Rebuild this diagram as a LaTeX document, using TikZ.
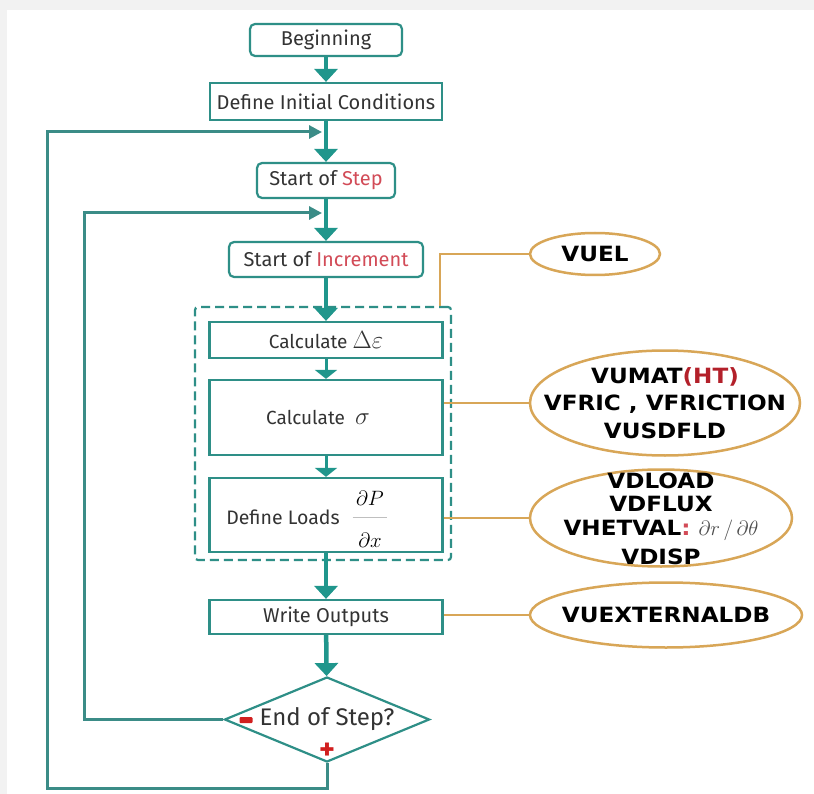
\documentclass[tikz,border=0pt]{standalone}
\usepackage{fontspec}
\setmainfont{Fira Sans}
\newfontfamily\subfont[FakeStretch=1.1]{DejaVu Sans Bold}
\usetikzlibrary{arrows.meta,shapes.geometric}
\definecolor{flowteal}{RGB}{32,150,140}
\definecolor{boxline}{RGB}{46,143,135}
\definecolor{loopline}{RGB}{59,140,135}
\definecolor{tan}{RGB}{216,166,87}
\definecolor{stepred}{RGB}{210,75,87}
\definecolor{htred}{RGB}{179,32,42}
\definecolor{signred}{RGB}{209,31,31}
\definecolor{txt}{RGB}{51,51,51}
\begin{document}
\begin{tikzpicture}[x=1pt,y=-1pt,
  >={Triangle[width=23pt,length=13pt]},
  box/.style={draw=boxline,line width=2.2pt,fill=white,minimum width=233pt,
    text=txt,font=\fontsize{20}{22}\selectfont,inner sep=0pt},
  rbox/.style={box,rounded corners=5pt},
  flow/.style={->,draw=flowteal,line width=4.5pt},
  thinflow/.style={->,draw=flowteal,line width=3pt,>={Triangle[width=22pt,length=9pt]}},
  loopback/.style={->,draw=loopline,line width=3pt,shorten >=4pt,
    >={Triangle[width=13pt,length=13pt]}},
  link/.style={draw=tan,line width=2.2pt},
  sub/.style={ellipse,draw=tan,line width=2.5pt,fill=white,inner sep=0pt},
  subtxt/.style={font=\subfont\fontsize{21}{23.5}\selectfont,align=center,inner sep=0pt}]
\path[use as bounding box] (0,0) rectangle (814,794);
\fill[black!5] (0,0) rectangle (814,794);
\fill[white] (7,10) rectangle (814,794);

% main column
\node[rbox,minimum width=152pt,minimum height=32pt] (begin) at (326,40) {Beginning};
\node[box,minimum width=232pt,minimum height=37pt] (init) at (326,101.5) {Define Initial Conditions};
\node[rbox,minimum width=138pt,minimum height=35pt] (step) at (326,180.5) {Start of \textcolor{stepred}{Step}};
\node[rbox,minimum width=194pt,minimum height=35pt] (incr) at (326,259.5) {Start of \textcolor{stepred}{Increment}};
\node[draw=boxline,dashed,dash pattern=on 9pt off 5pt,line width=2.2pt,rounded corners=3pt,
  minimum width=256pt,minimum height=253pt] (calc) at (323,433.5) {};
\node[box,minimum height=36pt] (deps) at (326,340) {\fontsize{19}{21}\selectfont Calculate {\fontsize{25}{25}\selectfont$\Delta\varepsilon$}};
\node[box,minimum height=75pt] (sig) at (326,417.5) {\fontsize{19}{21}\selectfont Calculate\ \ {\fontsize{24}{24}\selectfont$\sigma$}\hspace*{16pt}};
\node[box,minimum height=74pt] (load) at (326,515) {};
\node[text=txt,font=\fontsize{19.5}{21}\selectfont] (loadtxt) at (283,517) {Define Loads};
\node[font=\fontsize{21}{21}\selectfont] (dP) at (370,498) {$\partial P$};
\node[font=\fontsize{21}{21}\selectfont] (dx) at (370,540) {$\partial x$};
\draw[black!25,line width=0.8pt] (dP.south west |- 0,517) -- (dP.south east |- 0,517);
\node[box,minimum height=34pt] (write) at (326,617) {Write Outputs};
\node[diamond,aspect=2.4,draw=boxline,line width=2.2pt,minimum width=205pt,minimum height=85pt,
  inner sep=0pt,fill=white,text=txt,font=\fontsize{24}{24}\selectfont] (end) at (327,719.5) {End of Step?};
\node[fill=signred,minimum width=13pt,minimum height=6pt,inner sep=0pt,rounded corners=1pt] (minus) at (246,720) {};
\node[text=signred,font=\bfseries\fontsize{30}{30}\selectfont,inner sep=0pt] (plus) at (327,751) {+};

\draw[flow] (begin) -- (init);
\draw[flow] (init) -- (step);
\draw[flow] (step) -- (incr);
\draw[flow] (incr) -- (deps);
\draw[thinflow] (deps) -- (sig);
\draw[thinflow] (sig) -- (load);
\draw[flow] (load) -- (write);
\draw[flow] (write) -- (end);

% loops back
\coordinate (inl) at (84,213);
\coordinate (outl) at (47,132);
\draw[loopback] (end.west) -| (inl) -- (inl -| incr.north);
\draw[loopback] (end.south) -- ++(0,25) -| (outl) -- (outl -| step.north);

% user subroutines
\node[sub,minimum width=130pt,minimum height=42pt] (vuel) at (595,254) {};
\node[subtxt] (vueltxt) at (vuel) {VUEL};
\node[sub,minimum width=270pt,minimum height=105pt] (vumat) at (665,403) {};
\node[subtxt,font=\subfont\fontsize{21}{27.5}\selectfont] (vumattxt) at (vumat) {VUMAT\textcolor{htred}{(HT)}\\VFRIC , VFRICTION\\VUSDFLD};
\node[sub,minimum width=262pt,minimum height=97pt] (vload) at (661,518) {};
\node[subtxt] (vloadtxt) at (661,519) {VDLOAD\\VDFLUX\\VHETVAL\textcolor{stepred}{:} \textcolor{black!70}{\normalfont$\partial r\,/\,\partial\theta$}\\[6pt]VDISP};
\node[sub,minimum width=272pt,minimum height=65pt] (vext) at (666,615) {};
\node[subtxt] (vexttxt) at (vext) {VUEXTERNALDB};

\coordinate (knee) at (440,254);
\draw[link] (vuel) -- (knee) -- (knee |- calc.north);
\draw[link] (sig.east |- vumat) -- (vumat);
\draw[link] (load.east |- vload) -- (vload);
\draw[link] (write.east |- vext) -- (vext);
\end{tikzpicture}
\end{document}
